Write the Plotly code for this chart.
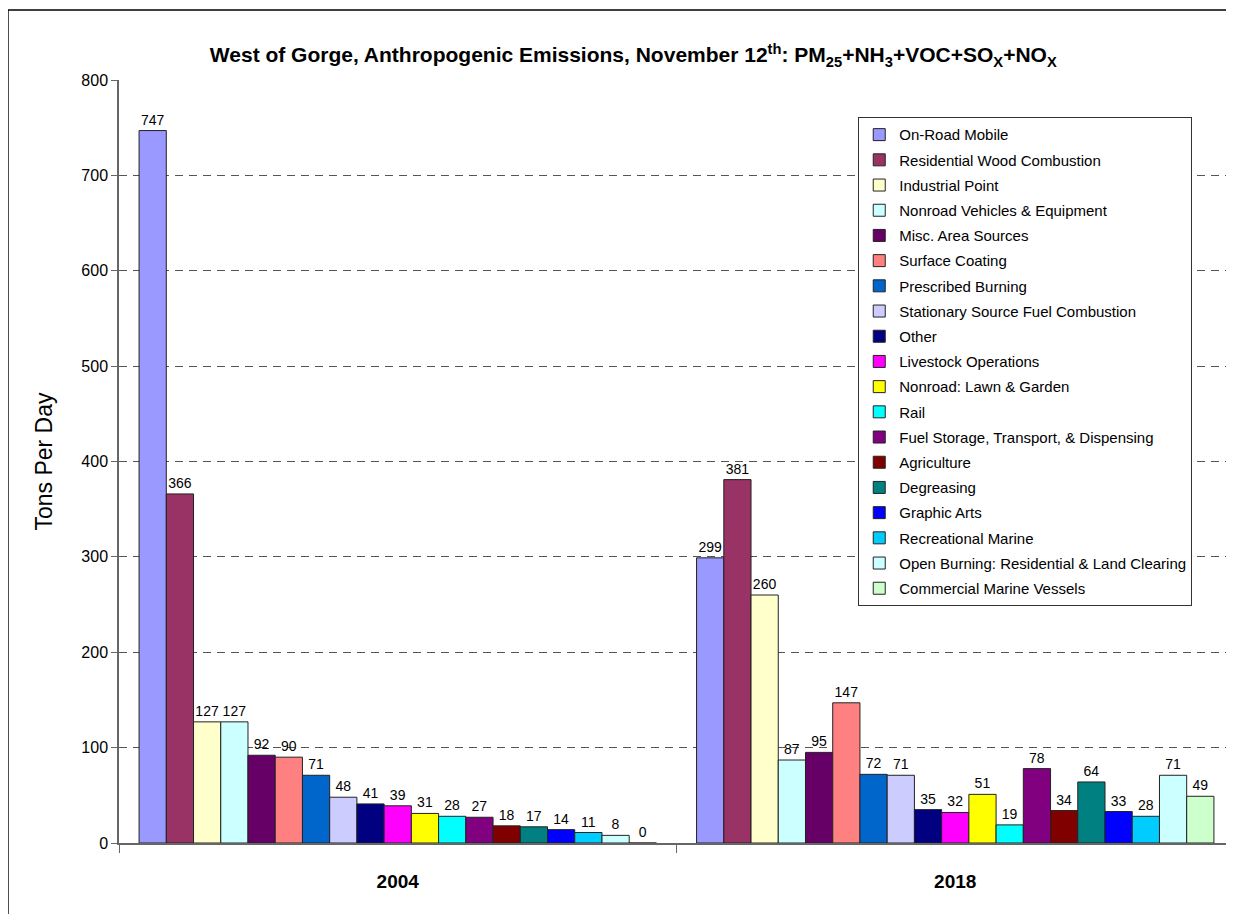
import plotly.graph_objects as go

# emission source categories (legend order)
sources = ['On-Road Mobile', 'Residential Wood Combustion', 'Industrial Point',
           'Nonroad Vehicles & Equipment', 'Misc. Area Sources', 'Surface Coating',
           'Prescribed Burning', 'Stationary Source Fuel Combustion', 'Other',
           'Livestock Operations', 'Nonroad: Lawn & Garden', 'Rail',
           'Fuel Storage, Transport, & Dispensing', 'Agriculture', 'Degreasing',
           'Graphic Arts', 'Recreational Marine',
           'Open Burning: Residential & Land Clearing', 'Commercial Marine Vessels']
years = ['2004', '2018']

# tons per day for each source
tons2004 = [747, 366, 127, 127, 92, 90, 71, 48, 41, 39, 31, 28, 27, 18, 17, 14, 11, 8, 0]
tons2018 = [299, 381, 260, 87, 95, 147, 72, 71, 35, 32, 51, 19, 78, 34, 64, 33, 28, 71, 49]

colors = ['#9999FF', '#993366', '#FFFFCC', '#CCFFFF', '#660066', '#FF8080', '#0066CC',
          '#CCCCFF', '#000080', '#FF00FF', '#FFFF00', '#00FFFF', '#800080', '#800000',
          '#008080', '#0000FF', '#00CCFF', '#CCFFFF', '#CCFFCC']

font = 'Liberation Sans, Arial, sans-serif'

fig = go.Figure()
for i, src in enumerate(sources):
    vals = [tons2004[i], tons2018[i]]
    fig.add_trace(go.Bar(x=years, y=vals, name=src, legendgroup=src,
                         marker=dict(color=colors[i], line=dict(color='#222222', width=1)),
                         text=[str(v) for v in vals], textposition='outside',
                         textfont=dict(size=14, color='black', family=font),
                         cliponaxis=False))

# page has an 8px body margin, so sizes are trimmed by 8
fig.update_layout(
    width=1226, height=906,
    margin=dict(l=111, r=0, t=72, b=71),
    paper_bgcolor='white', plot_bgcolor='white',
    font=dict(family=font, color='black'),
    barmode='group', bargap=0.072, bargroupgap=0,
    title=dict(text='West of Gorge, Anthropogenic Emissions, November 12<sup>th</sup>: '
                    'PM<sub>25</sub>+NH<sub>3</sub>+VOC+SO<sub>X</sub>+NO<sub>X</sub>',
               font=dict(size=21, family=font, color='black', weight='bold'),
               x=0.51, xanchor='center', xref='container',
               y=1 - 47 / 906, yanchor='middle', yref='container'),
    legend=dict(x=0.663, y=0.951, xanchor='left', yanchor='top',
                bgcolor='white', bordercolor='#333333', borderwidth=1,
                font=dict(size=15, family=font, color='black'),
                tracegroupgap=2.7, itemwidth=30),
)

fig.update_yaxes(range=[0, 800], dtick=100, showgrid=True, gridcolor='#555555',
                 griddash='8px,6px', gridwidth=1, zeroline=False,
                 showline=True, linecolor='#666666', linewidth=1.5,
                 ticks='outside', ticklen=6, tickcolor='#666666',
                 tickfont=dict(size=16, family=font, color='black'),
                 title=dict(text='Tons Per Day', standoff=22,
                            font=dict(size=23, family=font, color='black')))
fig.update_xaxes(showline=True, linecolor='#666666', linewidth=1.5,
                 ticks='outside', tickson='boundaries', ticklen=8, tickcolor='#666666',
                 ticklabelstandoff=20,
                 tickfont=dict(size=19, family=font, color='black', weight='bold'))

# outer frame around the chart
fig.add_shape(type='rect', xref='paper', yref='paper',
              x0=-0.0996, x1=1.1, y0=-0.2, y1=1.0917,
              line=dict(color='black', width=1.5), fillcolor='rgba(0,0,0,0)', layer='above')

fig.write_html('out.html')
